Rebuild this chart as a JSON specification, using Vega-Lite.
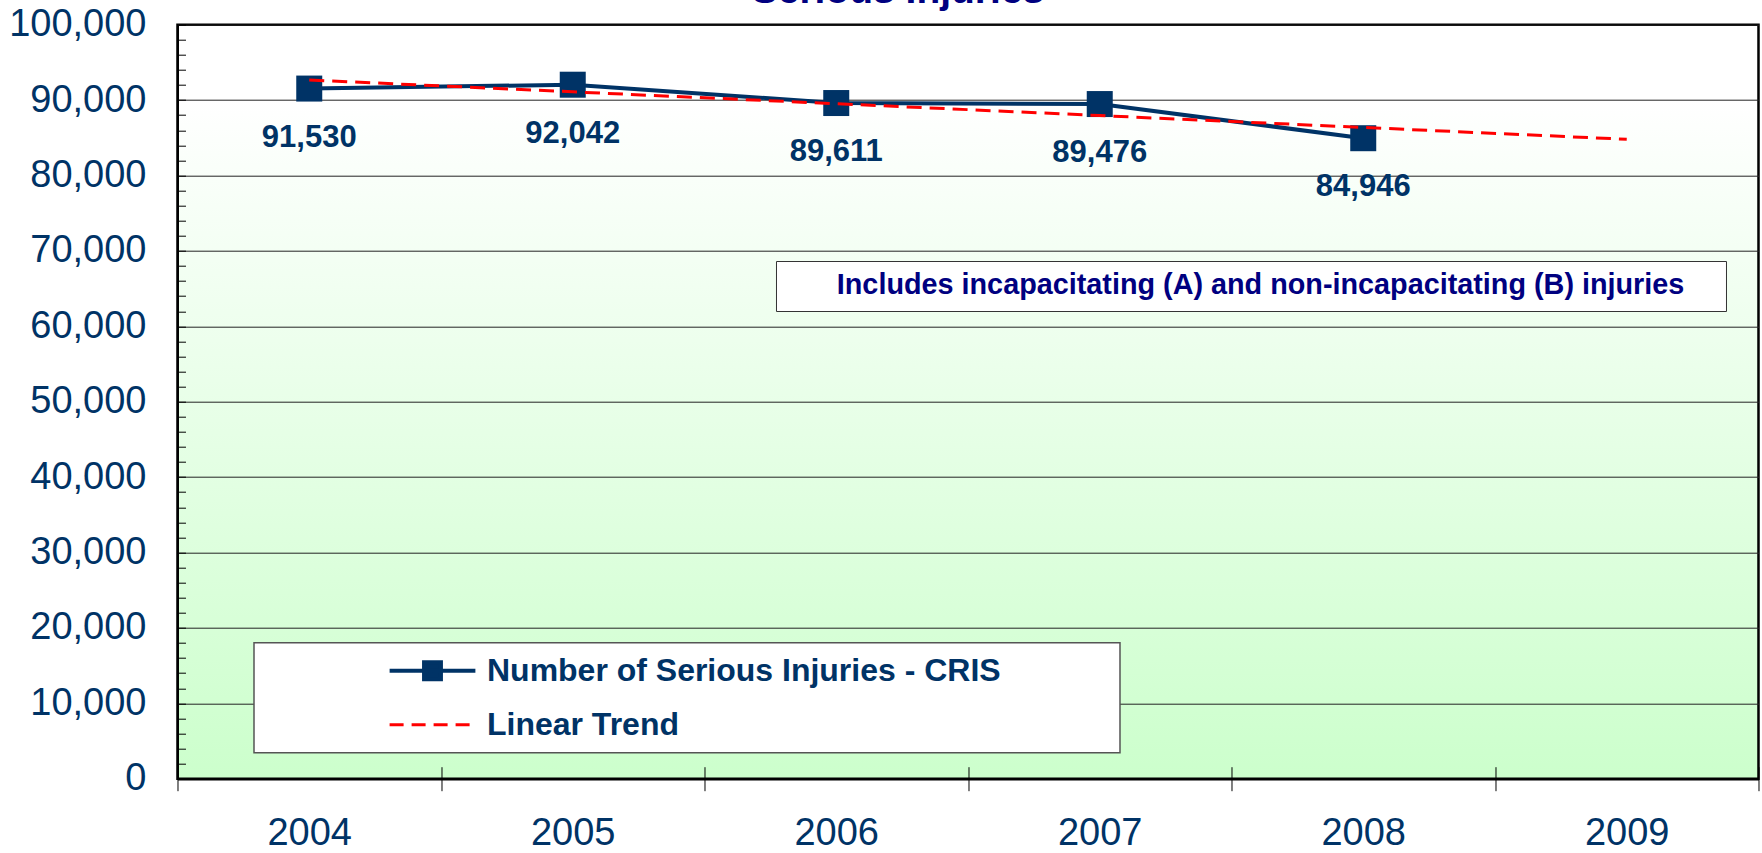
{
  "$schema": "https://vega.github.io/schema/vega-lite/v6.json",
  "width": 1581,
  "height": 754,
  "autosize": {"type": "none"},
  "padding": {"left": 177.5, "top": 24.7, "right": 3.4, "bottom": 74.3},
  "background": "#FFFFFF",
  "title": {
    "text": "Serious Injuries",
    "font": "Liberation Sans",
    "fontSize": 39,
    "fontWeight": "bold",
    "color": "#000080",
    "anchor": "middle",
    "frame": "group",
    "baseline": "alphabetic",
    "offset": -36,
    "dx": -70
  },
  "datasets": {
    "injuries": [
      {"year": "2004", "series": "Number of Serious Injuries - CRIS", "value": 91530},
      {"year": "2005", "series": "Number of Serious Injuries - CRIS", "value": 92042},
      {"year": "2006", "series": "Number of Serious Injuries - CRIS", "value": 89611},
      {"year": "2007", "series": "Number of Serious Injuries - CRIS", "value": 89476},
      {"year": "2008", "series": "Number of Serious Injuries - CRIS", "value": 84946},
      {"year": "2004", "series": "Linear Trend", "value": 92667},
      {"year": "2005", "series": "Linear Trend", "value": 91094},
      {"year": "2006", "series": "Linear Trend", "value": 89521},
      {"year": "2007", "series": "Linear Trend", "value": 87948},
      {"year": "2008", "series": "Linear Trend", "value": 86374},
      {"year": "2009", "series": "Linear Trend", "value": 84801}
    ],
    "notes": [
      {"note": "Includes incapacitating (A) and non-incapacitating (B) injuries"}
    ]
  },
  "data": {"name": "injuries"},
  "encoding": {
    "y": {
      "field": "value",
      "type": "quantitative",
      "scale": {"domain": [0, 100000], "nice": false, "zero": true},
      "axis": {
        "title": null,
        "values": [0, 2000, 4000, 6000, 8000, 10000, 12000, 14000, 16000, 18000, 20000, 22000, 24000, 26000, 28000, 30000, 32000, 34000, 36000, 38000, 40000, 42000, 44000, 46000, 48000, 50000, 52000, 54000, 56000, 58000, 60000, 62000, 64000, 66000, 68000, 70000, 72000, 74000, 76000, 78000, 80000, 82000, 84000, 86000, 88000, 90000, 92000, 94000, 96000, 98000, 100000],
        "labelExpr": "datum.value % 10000 === 0 ? format(datum.value, ',') : ''",
        "labelFont": "Liberation Sans",
        "labelFontSize": 38,
        "labelColor": "#003366",
        "labelPadding": 39.5,
        "labelOverlap": false,
        "labelFlush": false,
        "labelBound": false,
        "tickSize": -8,
        "tickColor": "#000000",
        "tickWidth": 1,
        "domainColor": "#000000",
        "domainWidth": 2,
        "grid": true,
        "gridColor": "#222222",
        "gridWidth": 1,
        "gridOpacity": {"condition": {"test": "datum.value % 10000 === 0", "value": 1}, "value": 0}
      }
    }
  },
  "resolve": {"axis": {"x": "independent"}},
  "layer": [
    {
      "transform": [{"filter": "datum.series !== 'Linear Trend'"}],
      "mark": {"type": "line", "strokeWidth": 4},
      "encoding": {
        "x": {
          "field": "year",
          "type": "nominal",
          "scale": {"type": "band", "domain": ["2004", "2005", "2006", "2007", "2008", "2009"], "paddingInner": 0, "paddingOuter": 0},
          "axis": {
            "orient": "bottom",
            "title": null,
            "tickBand": "extent",
            "tickSize": 12,
            "tickColor": "#000000",
            "tickWidth": 1,
            "domainColor": "#000000",
            "domainWidth": 2.5,
            "labelFont": "Liberation Sans",
            "labelFontSize": 38,
            "labelColor": "#003366",
            "labelPadding": 23.5,
            "labelAngle": 0,
            "grid": false
          }
        },
        "color": {
          "field": "series",
          "type": "nominal",
          "scale": {"domain": ["Number of Serious Injuries - CRIS", "Linear Trend"], "range": ["#003366", "#FF0000"]},
          "legend": {
            "title": null,
            "orient": "none",
            "legendX": 76.5,
            "legendY": 618,
            "padding": 12,
            "fillColor": "#FFFFFF",
            "strokeColor": "#555555",
            "symbolOffset": 150.5,
            "labelOffset": 38.5,
            "rowPadding": 21,
            "symbolSize": 676,
            "labelFont": "Liberation Sans",
            "labelFontSize": 32,
            "labelFontWeight": "bold",
            "labelColor": "#003366",
            "labelLimit": 2000,
            "encode": {
              "symbols": {
                "update": {
                  "shape": {"signal": "datum.value === 'Linear Trend' ? 'M-3.3,0H3.3M51.3,0' : 'M-3.3,0H3.3M-0.65,-0.65H0.65V0.65H-0.65ZM51.3,0'"},
                  "fill": {"signal": "datum.value === 'Linear Trend' ? 'transparent' : '#003366'"},
                  "stroke": {"signal": "datum.value === 'Linear Trend' ? '#FF0000' : '#003366'"},
                  "strokeDash": {"signal": "datum.value === 'Linear Trend' ? [14, 8] : [1, 0]"},
                  "strokeWidth": {"signal": "datum.value === 'Linear Trend' ? 3 : 4"},
                  "size": {"value": 676},
                  "opacity": {"value": 1}
                }
              },
              "legend": {"update": {"strokeWidth": {"value": 1.5}}}
            }
          }
        }
      }
    },
    {
      "transform": [{"filter": "datum.series !== 'Linear Trend'"}],
      "mark": {"type": "point", "shape": "square", "filled": true, "size": 676, "color": "#003366", "opacity": 1},
      "encoding": {
        "x": {"field": "year", "type": "nominal", "axis": null}
      }
    },
    {
      "transform": [{"filter": "datum.series === 'Linear Trend'"}],
      "mark": {"type": "line", "strokeWidth": 3, "strokeDash": [15, 8]},
      "encoding": {
        "x": {
          "field": "year",
          "type": "nominal",
          "axis": {
            "orient": "bottom",
            "title": null,
            "tickBand": "extent",
            "tickSize": -12,
            "tickColor": "#000000",
            "tickWidth": 1,
            "domain": false,
            "labels": false,
            "grid": false
          }
        },
        "color": {"field": "series", "type": "nominal"}
      }
    },
    {
      "transform": [{"filter": "datum.series !== 'Linear Trend'"}],
      "mark": {"type": "text", "dy": 49, "baseline": "middle", "align": "center", "font": "Liberation Sans", "fontSize": 31, "fontWeight": "bold", "color": "#003366"},
      "encoding": {
        "x": {"field": "year", "type": "nominal", "axis": null},
        "text": {"field": "value", "type": "quantitative", "format": ","}
      }
    },
    {
      "data": {"name": "notes"},
      "mark": {"type": "point", "opacity": 0, "size": 0, "filled": true},
      "encoding": {
        "x": {"value": 0},
        "y": {"value": 0},
        "shape": {
          "field": "note",
          "type": "nominal",
          "scale": {"range": ["M0,0M930,0"]},
          "legend": {
            "title": null,
            "orient": "none",
            "legendX": 598.5,
            "legendY": 236.3,
            "padding": 10,
            "fillColor": "#FFFFFF",
            "strokeColor": "#333333",
            "symbolSize": 4,
            "symbolOffset": -14.4,
            "labelOffset": 36.4,
            "symbolStrokeWidth": 0,
            "symbolFillColor": "transparent",
            "symbolStrokeColor": "transparent",
            "labelFont": "Liberation Sans",
            "labelFontSize": 28.8,
            "labelFontWeight": "bold",
            "labelColor": "#000080",
            "labelLimit": 2000,
            "encode": {
              "legend": {"update": {"strokeWidth": {"value": 1.5}}}
            }
          }
        }
      }
    }
  ],
  "config": {
    "font": "Liberation Sans",
    "view": {
      "stroke": "#000000",
      "strokeWidth": 2.5,
      "fill": {
        "gradient": "linear",
        "x1": 0, "y1": 0, "x2": 0, "y2": 1,
        "stops": [
          {"offset": 0, "color": "#FFFFFF"},
          {"offset": 0.1, "color": "#FFFFFF"},
          {"offset": 1, "color": "#CCFFCC"}
        ]
      }
    }
  }
}
